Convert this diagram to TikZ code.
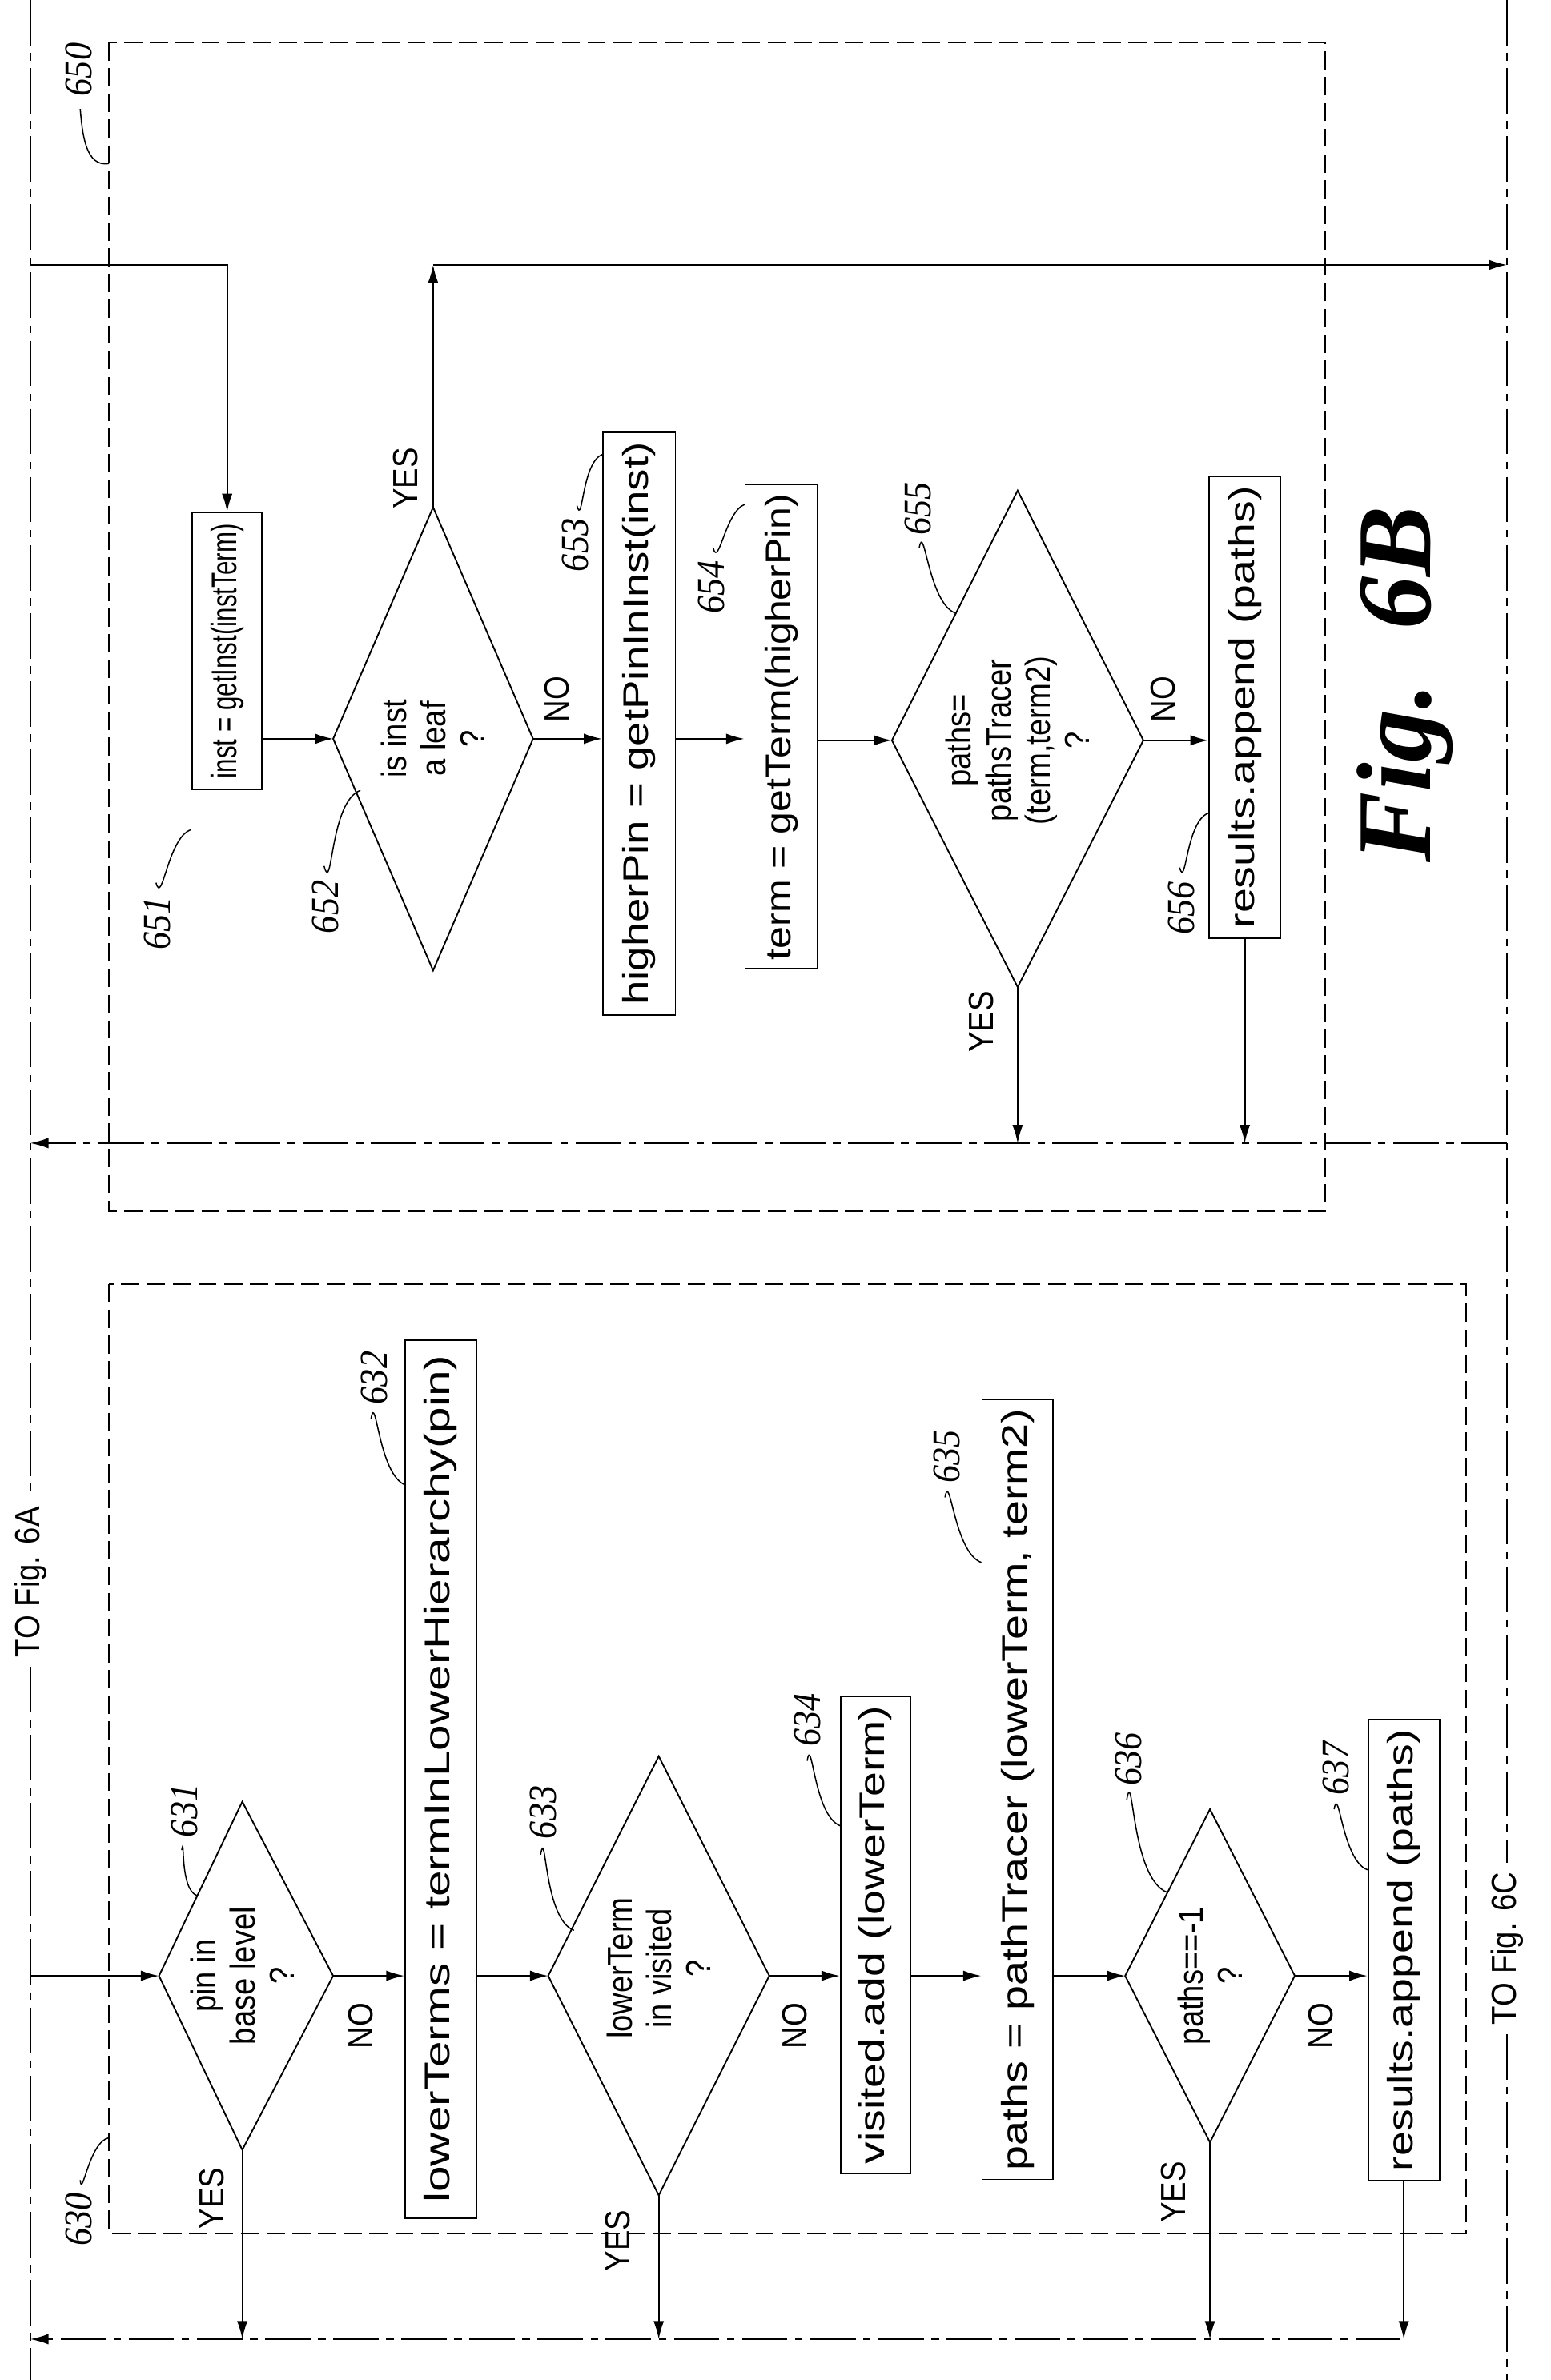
\documentclass[tikz,border=0pt]{standalone}
\usepackage{fontspec}
\setmainfont{Liberation Sans}[FakeStretch=0.88]
\newfontfamily\lblfont{Liberation Serif}[FakeStretch=0.9]
\newfontfamily\figfont{Liberation Serif}
\usetikzlibrary{arrows.meta}
\newcommand{\fitt}[2]{\resizebox{#1}{17pt}{#2}}
\begin{document}
\begin{tikzpicture}[x=1pt,y=-1pt,
  t/.style={rotate=90,font=\fontsize{23}{26}\selectfont,align=center,inner sep=0pt},
  box/.style={t,draw,line width=1pt},
  lbl/.style={rotate=90,font=\lblfont\itshape\fontsize{26}{28}\selectfont,inner sep=1pt},
  flow/.style={line width=1pt,-{Latex[length=12pt,width=7pt]}},
  ln/.style={line width=1pt},
  lead/.style={line width=0.8pt},
  frame/.style={line width=1pt,dash pattern=on 12pt off 5pt},
  bus/.style={line width=1pt,dash pattern=on 30pt off 5pt on 5pt off 5pt}]
\useasboundingbox (0,0) rectangle (1024,1572);
% frames
\draw[frame] (72,28) rectangle (875,800);
\draw[frame] (72,848) rectangle (968,1475);
% buses
\node[t] (to6a) at (20,1045) {TO Fig. 6A};
\node[t] (to6c) at (995,1287) {TO Fig. 6C};
\coordinate (w0) at (20,0); \coordinate (w1) at (20,1572);
\coordinate (e0) at (995,0); \coordinate (e1) at (995,1572);
\draw[bus] (w0) -- ([yshift=6pt]to6a.east);
\draw[bus] ([yshift=-6pt]to6a.west) -- (w1);
\draw[bus] (e0) -- ([yshift=6pt]to6c.east);
\draw[bus] ([yshift=-6pt]to6c.west) -- (e1);
\coordinate (mbL) at (20,755); \coordinate (mbR) at (995,755);
\draw[bus,-{Latex[length=12pt,width=7pt]}] (mbR) -- (mbL);
\coordinate (lbL) at (20,1545); \coordinate (lbR) at (925,1545);
\draw[bus,-{Latex[length=12pt,width=7pt]}] (lbR) -- (lbL);
% ===== 6B =====
\node[box,minimum width=183pt,minimum height=46pt] (b651) at (150,430) {\fitt{168pt}{inst = getInst(instTerm)}};
\coordinate (in6b) at (20,175); \coordinate (c148) at (150,175);
\draw[flow] (in6b) -- (c148) -- (b651.east);
\coordinate (d652l) at (220,488); \coordinate (d652r) at (352,488);
\coordinate (d652t) at (286,335); \coordinate (d652b) at (286,641);
\draw[ln] (d652l) -- (d652t) -- (d652r) -- (d652b) -- cycle;
\node[t] (d652) at (286,488) {is inst\\a leaf\\?};
\draw[flow] (b651.south |- d652l) -- (d652l);
\coordinate (y652) at (286,175); \coordinate (out6b) at (995,175);
\draw[flow] (d652t) -- (y652);
\draw[flow] (y652) -- (out6b);
\node[t] at (268,316) {YES};
\node[t] at (368,462) {NO};
\node[box,minimum width=385pt,minimum height=48pt] (b653) at (422,478) {\fitt{372pt}{higherPin = getPinInInst(inst)}};
\draw[flow] (d652r) -- (d652r -| b653.north);
\node[box,minimum width=320pt,minimum height=48pt] (b654) at (516,480) {\fitt{308pt}{term = getTerm(higherPin)}};
\draw[flow] (b653.south |- d652r) -- (b654.north |- d652r);
\coordinate (d655l) at (589,489); \coordinate (d655r) at (755,489);
\coordinate (d655t) at (672,324); \coordinate (d655b) at (672,652);
\draw[ln] (d655l) -- (d655t) -- (d655r) -- (d655b) -- cycle;
\node[t] (d655) at (672,489) {paths=\\pathsTracer\\(term,term2)\\?};
\draw[flow] (b654.south |- d655l) -- (d655l);
\node[t] at (648,675) {YES};
\node[t] at (768,462) {NO};
\coordinate (y655) at (672,755);
\draw[flow] (d655b) -- (y655);
\node[box,minimum width=305pt,minimum height=47pt] (b656) at (822,467) {\fitt{292pt}{results.append (paths)}};
\draw[flow] (d655r) -- (d655r -| b656.north);
\coordinate (y656) at (822,755);
\draw[flow] (b656.west) -- (y656);
\node[rotate=90,font=\figfont\bfseries\itshape\fontsize{70}{74}\selectfont] (fig) at (928,452) {Fig.\ \ 6B};
% labels 6B
\node[lbl] (l650) at (52,46) {650};
\draw[lead] (53,72) to[out=275,in=190] (72,108);
\node[lbl] (l651) at (104,610) {651};
\draw[lead] (103,583) to[out=285,in=200] (126,548);
\node[lbl] (l652) at (215,599) {652};
\draw[lead] (214,572) to[out=285,in=200] (238,522);
\node[lbl] (l653) at (380,360) {653};
\draw[lead] (381,334) to[out=285,in=200] (398,300);
\node[lbl] (l654) at (470,388) {654};
\draw[lead] (471,362) to[out=285,in=200] (492,333);
\node[lbl] (l655) at (606,336) {655};
\draw[lead] (607,362) to[out=80,in=160] (631,405);
\node[lbl] (l656) at (780,600) {656};
\draw[lead] (779,573) to[out=285,in=200] (798,537);
% ===== 6A =====
\coordinate (d631l) at (105,1305); \coordinate (d631r) at (220,1305);
\coordinate (d631t) at (160,1190); \coordinate (d631b) at (160,1420);
\draw[ln] (d631l) -- (d631t) -- (d631r) -- (d631b) -- cycle;
\node[t] (d631) at (160,1305) {pin in\\base level\\?};
\coordinate (in6a) at (20,1305);
\draw[flow] (in6a) -- (d631l);
\coordinate (y631) at (160,1545);
\draw[flow] (d631b) -- (y631);
\node[t] at (140,1452) {YES};
\node[t] at (238,1338) {NO};
\node[box,minimum width=580pt,minimum height=47pt] (b632) at (291,1175) {\fitt{560pt}{lowerTerms = termInLowerHierarchy(pin)}};
\draw[flow] (d631r) -- (d631r -| b632.north);
\coordinate (d633l) at (362,1305); \coordinate (d633r) at (508,1305);
\coordinate (d633t) at (435,1160); \coordinate (d633b) at (435,1450);
\draw[ln] (d633l) -- (d633t) -- (d633r) -- (d633b) -- cycle;
\node[t] (d633) at (435,1300) {lowerTerm\\in visited\\?};
\draw[flow] (b632.south |- d633l) -- (d633l);
\coordinate (y633) at (435,1545);
\draw[flow] (d633b) -- (y633);
\node[t] at (408,1480) {YES};
\node[t] at (525,1338) {NO};
\node[box,minimum width=315pt,minimum height=46pt] (b634) at (578,1278) {\fitt{303pt}{visited.add (lowerTerm)}};
\draw[flow] (d633r) -- (d633r -| b634.north);
\node[box,minimum width=515pt,minimum height=47pt] (b635) at (672,1182) {\fitt{503pt}{paths = pathTracer (lowerTerm, term2)}};
\draw[flow] (b634.south |- d633r) -- (b635.north |- d633r);
\coordinate (d636l) at (743,1305); \coordinate (d636r) at (855,1305);
\coordinate (d636t) at (799,1195); \coordinate (d636b) at (799,1415);
\draw[ln] (d636l) -- (d636t) -- (d636r) -- (d636b) -- cycle;
\node[t] (d636) at (799,1305) {paths==-1\\?};
\draw[flow] (b635.south |- d636l) -- (d636l);
\coordinate (y636) at (799,1545);
\draw[flow] (d636b) -- (y636);
\node[t] at (775,1448) {YES};
\node[t] at (872,1338) {NO};
\node[box,minimum width=305pt,minimum height=47pt] (b637) at (927,1288) {\fitt{292pt}{results.append (paths)}};
\draw[flow] (d636r) -- (d636r -| b637.north);
\coordinate (y637) at (927,1545);
\draw[flow] (b637.west) -- (y637);
% labels 6A
\node[lbl] (l630) at (52,1466) {630};
\draw[lead] (53,1440) to[out=275,in=190] (72,1412);
\node[lbl] (l631) at (122,1196) {631};
\draw[lead] (120,1222) to[out=80,in=160] (130,1252);
\node[lbl] (l632) at (247,910) {632};
\draw[lead] (245,937) to[out=80,in=160] (268,981);
\node[lbl] (l633) at (359,1197) {633};
\draw[lead] (357,1225) to[out=80,in=160] (379,1275);
\node[lbl] (l634) at (533,1136) {634};
\draw[lead] (533,1163) to[out=80,in=160] (555,1206);
\node[lbl] (l635) at (625,962) {635};
\draw[lead] (624,989) to[out=80,in=160] (648,1032);
\node[lbl] (l636) at (745,1162) {636};
\draw[lead] (744,1189) to[out=80,in=160] (771,1250);
\node[lbl] (l637) at (882,1168) {637};
\draw[lead] (881,1195) to[out=80,in=160] (903,1235);
\end{tikzpicture}
\end{document}
